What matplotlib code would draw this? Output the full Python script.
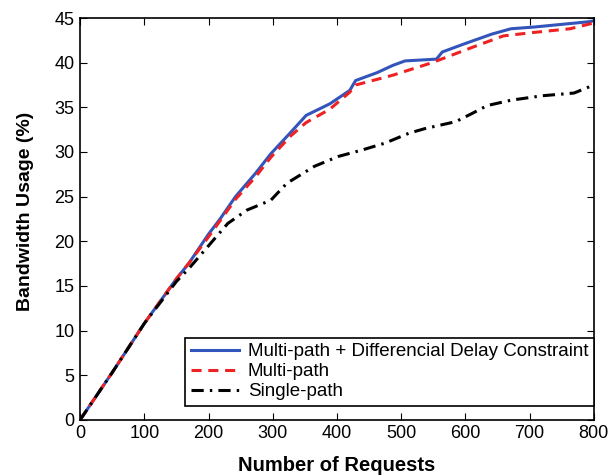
import matplotlib.pyplot as plt

plt.rcParams['font.family'] = ['Liberation Sans', 'DejaVu Sans']

# Multi-path + differential delay constraint
x_blue = [0, 50, 100, 150, 170, 200, 218, 242, 273, 297, 328, 352, 389, 420, 429,
          463, 487, 506, 555, 564, 598, 641, 671, 708, 751, 794, 800]
y_blue = [0, 5.3, 10.8, 15.8, 17.6, 20.8, 22.5, 25.0, 27.6, 29.8, 32.2, 34.1, 35.4,
          36.9, 38.0, 38.9, 39.7, 40.2, 40.4, 41.2, 42.1, 43.2, 43.8, 44.0, 44.3, 44.6, 44.7]

# Multi-path
x_red = [0, 50, 100, 150, 170, 200, 218, 242, 273, 297, 328, 352, 389, 420, 429,
         487, 548, 610, 659, 708, 763, 797, 800]
y_red = [0, 5.3, 10.8, 15.8, 17.6, 20.5, 22.3, 24.7, 27.2, 29.4, 31.8, 33.3, 34.8,
         36.7, 37.5, 38.6, 40.0, 41.7, 43.0, 43.4, 43.8, 44.4, 44.5]

# Single-path
x_black = [0, 50, 100, 150, 170, 200, 230, 260, 297, 322, 365, 402, 438, 475, 512,
           536, 585, 610, 634, 671, 720, 769, 800]
y_black = [0, 5.3, 10.8, 15.5, 17.0, 19.5, 22.0, 23.5, 24.6, 26.5, 28.4, 29.5, 30.2,
           31.0, 32.1, 32.6, 33.4, 34.3, 35.2, 35.8, 36.3, 36.6, 37.5]

fig = plt.figure(figsize=(6.16, 4.75), dpi=100)
ax = fig.add_axes([0.13, 0.116, 0.834, 0.846])

ax.plot(x_blue, y_blue, color='#3355bb', lw=2.2, label='Multi-path + Differencial Delay Constraint')
ax.plot(x_red, y_red, color='#ee2222', lw=2.2, ls=(0, (3.3, 2.2)), label='Multi-path')
ax.plot(x_black, y_black, color='black', lw=2.2, ls=(0, (4, 2, 0.8, 2)), label='Single-path')

ax.set_xlim(0, 800)
ax.set_ylim(0, 45)
ax.set_xticks(range(0, 801, 100))
ax.set_yticks(range(0, 46, 5))
ax.tick_params(direction='in', top=True, right=True, labelsize=13, length=5, pad=4)
for s in ax.spines.values():
    s.set_linewidth(1.2)

ax.set_xlabel('Number of Requests', fontsize=14.5, fontweight='bold', labelpad=10)
ax.set_ylabel('Bandwidth Usage (%)', fontsize=14, fontweight='bold')
ax.yaxis.set_label_coords(-0.09, 0.52)

leg = ax.legend(loc='lower right', bbox_to_anchor=(1.0, 0.035), fontsize=13.5,
                fancybox=False, edgecolor='black', framealpha=1, borderpad=0.3,
                labelspacing=0.15, handlelength=2.6, handletextpad=0.45,
                borderaxespad=0.0)
leg.get_frame().set_linewidth(1.2)

fig.savefig('out.png', dpi=100)
